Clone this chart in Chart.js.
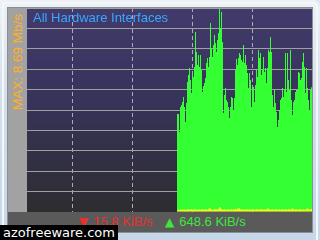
<!DOCTYPE html>
<html>
<head>
<meta charset="utf-8">
<script src="https://cdn.jsdelivr.net/npm/chart.js@4.4.1/dist/chart.umd.min.js"></script>
<style>
  html, body { margin: 0; padding: 0; }
  body { width: 320px; height: 240px; overflow: hidden; position: relative;
         background: #dbe5ef; font-family: 'Liberation Sans', Arial, sans-serif; }
  .frame { position: absolute; left: 0; top: 0; width: 320px; height: 240px;
           border-radius: 0 7px 0 0;
           background: linear-gradient(#eef2f6, #d3dfeb 40%, #c6d7ea); }
  .frame::before { content: ''; position: absolute; left: 2px; top: 2px; right: 2px; bottom: 0;
                   border: 2px solid #f4f7fa; border-bottom: none; border-radius: 0 5px 0 0; }
  .panel { position: absolute; left: 7px; top: 7px; width: 306px; height: 226px;
           background: #5a5a5a; border: 1px solid #8a8f96; box-sizing: border-box; }
  .strip { position: absolute; left: 8px; top: 8px; width: 19px; height: 204px; background: #a2a2a2; }
  #plot { position: absolute; left: 27px; top: 8px;
          background: linear-gradient(#413a6c, #37335a 45%, #2d2d30); }
  .title { position: absolute; left: 33px; top: 10px; font-size: 13px; color: #38a8ff; white-space: nowrap; }
  .max { position: absolute; left: 17px; top: 62px; transform: translate(-50%, -50%) rotate(-90deg);
         font-size: 13.5px; color: #ffb020; white-space: nowrap; }
  .down { position: absolute; left: 79px; top: 214px; font-size: 13px; color: #ec2f2a; white-space: nowrap; }
  .up   { position: absolute; left: 165px; top: 214px; font-size: 13px; color: #3be83b; white-space: nowrap; }
  .tri { font-family: 'DejaVu Sans', sans-serif; font-size: 12px; margin-right: 5px; }
  .wm { position: absolute; left: 0; top: 225px; width: 118px; height: 15px; background: #000;
        color: #fff; font-family: 'DejaVu Sans', sans-serif; font-size: 13px; line-height: 15px;
        padding-left: 3px; box-sizing: border-box; white-space: nowrap; }
</style>
</head>
<body>
<div class="frame"></div>
<div class="panel"></div>
<div class="strip"></div>
<canvas id="plot" width="285" height="204"></canvas>
<div class="title">All Hardware Interfaces</div>
<div class="max">MAX: 8.69 Mb/s</div>
<div class="down"><span class="tri">▼</span>15.8 KiB/s</div>
<div class="up"><span class="tri">▲</span>648.6 KiB/s</div>
<div class="wm">azofreeware.com</div>

<script>
'use strict';

/* ── Scale ───────────────────────────────── */
const MAX_MBPS   = 8.69;
const MAX_KIB    = MAX_MBPS * 1e6 / 8 / 1024;   // top of the plot, KiB/s
const HISTORY    = 285;                          // samples shown across the plot
const GRID_ROWS  = 10;
const GRID_EVERY = 60;                           // dashed time line every 60 samples
const GRID_FIRST = 45;

/* ── Data (KiB/s, oldest → newest) ────────── */
const received = [
  510,510,416,546,556,572,598,546,468,567,676,712,749,686,619,723,702,754,936,832,
  764,816,754,816,738,624,655,671,697,775,801,754,806,983,853,806,868,920,879,832,
  894,931,1060,957,1040,
  884,515,608,645,582,572,546,489,546,598,593,530,593,738,796,764,801,827,816,790,
  780,868,775,816,764,723,645,723,686,546,634,650,572,660,738,702,842,801,827,712,
  738,806,728,749,671,749,
  842,832,910,832,608,546,634,567,520,442,478,530,582,593,645,598,634,827,624,827,
  686,634,842,582,504,572,582,624,634,634,728,723,686,697,780,827,754,619,749,645,
  582,530,634,649
];

const sent = [
  10,12,12,13,12,14,13,12,13,12, 13,14,12,13,15,13,12,14,13,12,
  13,12,14,13,12,16,13,12,14,13, 12,15,21,18,13,12,14,13,16,14,
  13,18,26,22,15,13,12,14,13,12, 13,14,12,13,15,12,13,14,16,13,
  20,16,22,14,13,12,14,13,12,15, 13,12,14,13,12,16,13,12,13,15,
  13,12,14,13,15,12,13,14,12,13, 21,17,14,13,12,14,13,12,15,13,
  12,14,13,12,13,16,13,12,14,13, 12,15,13,14,13,19,17,12,14,13,
  12,14,13,15,12,13,14,12,13,15, 19,14,13,14,16
];

/* ── Helpers ─────────────────────────────── */
function padHistory(arr) {
  return new Array(HISTORY - arr.length).fill(null).concat(arr);
}
const labels = Array.from({ length: HISTORY }, (_, i) => i - HISTORY + 1);

/* ── Chart ───────────────────────────────── */
new Chart(document.getElementById('plot').getContext('2d'), {
  type: 'bar',
  data: {
    labels,
    datasets: [
      { label: 'Sent',     data: padHistory(sent),     backgroundColor: '#f4f424', order: 0 },
      { label: 'Received', data: padHistory(received), backgroundColor: '#33ff33', order: 1 },
    ],
  },
  options: {
    responsive: false,
    animation : false,
    devicePixelRatio: 1,
    layout    : { padding: 0 },
    datasets  : { bar: { grouped: false, barPercentage: 1, categoryPercentage: 1,
                         borderWidth: 0, inflateAmount: 0 } },
    plugins   : { legend: { display: false }, tooltip: { enabled: false } },
    scales: {
      x: {
        z: 1,
        ticks : { display: false, autoSkip: false },
        grid  : { drawTicks: false, lineWidth: 1,
                  color: c => ((c.index - GRID_FIRST) % GRID_EVERY === 0 ? '#b4a6ba' : 'transparent') },
        border: { display: false, dash: [4, 3] },
      },
      y: {
        z: 1,
        min: 0, max: MAX_KIB,
        afterBuildTicks: s => { s.ticks = Array.from({ length: GRID_ROWS + 1 }, (_, i) => ({ value: MAX_KIB * i / GRID_ROWS })); },
        ticks : { display: false },
        grid  : { drawTicks: false, color: '#a0a0a0', lineWidth: 1 },
        border: { display: false },
      },
    },
  },
});
</script>
</body>
</html>
